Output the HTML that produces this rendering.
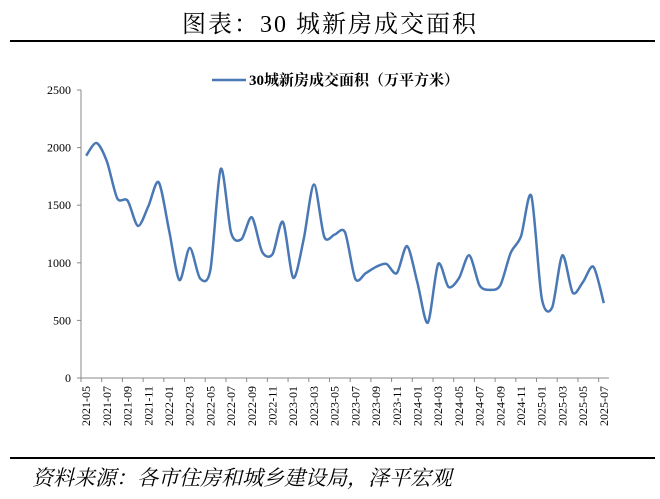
<!DOCTYPE html>
<html><head><meta charset="utf-8">
<style>
body{margin:0;background:#fff;width:660px;height:499px;overflow:hidden;font-family:"Liberation Serif","Noto Serif CJK SC",serif;}
</style></head><body>
<div style="position:absolute;left:0;top:4px;width:660px;text-align:center;font-size:24px;letter-spacing:2px;color:#000;">图表：30 城新房成交面积</div>
<div style="position:absolute;left:10px;top:40px;width:645px;height:2px;background:#000;"></div>
<svg id="chart" width="660" height="499" style="position:absolute;left:0;top:0">
</svg>
<div style="position:absolute;left:10px;top:457px;width:645px;height:2px;background:#000;"></div>
<div style="position:absolute;left:32px;top:462px;font-size:21px;font-style:italic;font-family:'Liberation Serif','Noto Serif CJK SC',serif;">资料来源：各市住房和城乡建设局，泽平宏观</div>
<script>
const categories=[];
(function(){let y=2021,m=5;for(let i=0;i<51;i++){categories.push(y+'-'+String(m).padStart(2,'0'));m++;if(m>12){m=1;y++;}}})();
const values=[1930,2040,1880,1560,1540,1320,1490,1700,1285,850,1130,865,940,1815,1260,1205,1395,1095,1075,1355,870,1200,1680,1225,1245,1265,860,910,965,990,910,1145,825,480,990,790,865,1065,805,765,805,1085,1230,1580,695,610,1065,740,835,965,650];
const yTicks=[0,500,1000,1500,2000,2500];
const seriesName='30城新房成交面积（万平方米）';
const NS='http://www.w3.org/2000/svg';
const svg=document.getElementById('chart');
const x0=81,x1=609,y0=378,y1=90,yMax=2500;
const bw=(x1-x0)/categories.length;
const X=i=>x0+bw*(i+0.5);
const Y=v=>y0-(v/yMax)*(y0-y1);
function el(t,a){const e=document.createElementNS(NS,t);for(const k in a)e.setAttribute(k,a[k]);svg.appendChild(e);return e;}
let ax=el('line',{x1:x0,y1:y1,x2:x0,y2:y0,stroke:'#888','stroke-width':1});


let bx=el('line',{x1:x0,y1:y0,x2:x1,y2:y0,stroke:'#888','stroke-width':1});


yTicks.forEach(t=>{
 let tk=el('line',{x1:x0-4,y1:Y(t),x2:x0,y2:Y(t),stroke:'#888'});
 
 
 let tx=el('text',{x:x0-10,y:Y(t)+4,'text-anchor':'end','font-size':12,'font-family':'Liberation Serif,serif'});
 tx.textContent=t;
 
 
});
for(let i=0;i<=categories.length;i+=2){
 let tk=el('line',{x1:x0+bw*i,y1:y0,x2:x0+bw*i,y2:y0+4,stroke:'#888'});
 
 
}
categories.forEach((c,i)=>{if(i%2)return;
 let tx=el('text',{x:0,y:0,'text-anchor':'end','font-size':12,'font-family':'Liberation Serif,serif',transform:`translate(${X(i)+4},${y0+8}) rotate(-90)`});
 tx.textContent=c;
 
 
});
const pts=values.map((v,i)=>[X(i),Y(v)]);
let d='M'+pts[0][0]+','+pts[0][1];
for(let i=0;i<pts.length-1;i++){
 const p0=pts[Math.max(0,i-1)],p1=pts[i],p2=pts[i+1],p3=pts[Math.min(pts.length-1,i+2)];
 const c1=[p1[0]+(p2[0]-p0[0])/7,p1[1]+(p2[1]-p0[1])/7],c2=[p2[0]-(p3[0]-p1[0])/7,p2[1]-(p3[1]-p1[1])/7];
 d+=` C${c1[0]},${c1[1]} ${c2[0]},${c2[1]} ${p2[0]},${p2[1]}`;
}
let ln=el('path',{d:d,fill:'none',stroke:'#4a78b5','stroke-width':2.5});


let lg=el('line',{x1:212,y1:80,x2:246,y2:80,stroke:'#4a78b5','stroke-width':2.5});


let lt=el('text',{x:249,y:85,'font-size':15,'font-weight':'bold','font-family':'Liberation Serif,Noto Serif CJK SC,serif'});
lt.textContent=seriesName;


</script>
</body></html>
